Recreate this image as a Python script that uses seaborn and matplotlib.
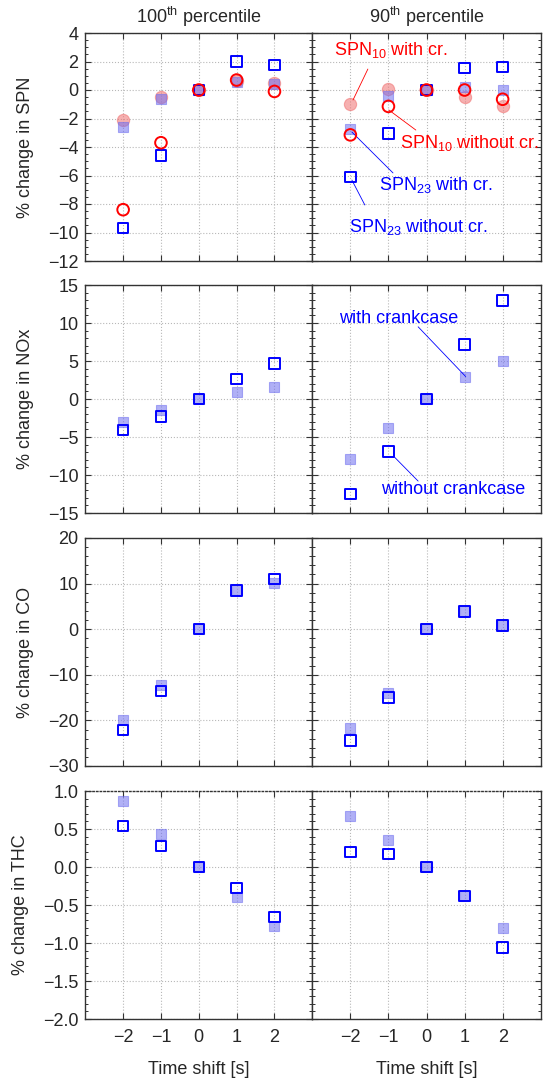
import numpy as np
import pandas as pd
import seaborn as sns
import matplotlib.pyplot as plt
from matplotlib.ticker import MultipleLocator

# time shifts on the x axis
t_shift = [-2, -1, 0, 1, 2]

# SPN, 100th percentile
spn10_cr_100 = [-2.1, -0.5, 0.0, 0.65, 0.5]
spn10_nocr_100 = [-8.4, -3.7, 0.0, 0.7, -0.1]
spn23_cr_100 = [-2.6, -0.6, 0.0, 0.55, 0.4]
spn23_nocr_100 = [-9.7, -4.6, 0.0, 2.0, 1.75]
# SPN, 90th percentile
spn10_cr_90 = [-0.95, 0.05, 0.0, -0.5, -1.1]
spn10_nocr_90 = [-3.15, -1.15, 0.0, 0.0, -0.65]
spn23_cr_90 = [-2.75, -0.45, 0.0, 0.2, 0.0]
spn23_nocr_90 = [-6.1, -3.05, 0.0, 1.55, 1.6]

# NOx
nox_cr_100 = [-3.0, -1.4, 0.0, 0.9, 1.6]
nox_nocr_100 = [-4.05, -2.3, 0.0, 2.6, 4.65]
nox_cr_90 = [-7.85, -3.8, 0.0, 2.85, 5.05]
nox_nocr_90 = [-12.5, -6.9, 0.0, 7.15, 12.95]

# CO
co_cr_100 = [-19.9, -12.3, 0.0, 8.6, 10.1]
co_nocr_100 = [-22.1, -13.6, 0.0, 8.5, 10.95]
co_cr_90 = [-21.75, -14.1, 0.0, 4.1, 0.95]
co_nocr_90 = [-24.4, -15.0, 0.0, 3.9, 0.8]

# THC
thc_cr_100 = [0.87, 0.44, 0.0, -0.39, -0.77]
thc_nocr_100 = [0.54, 0.275, 0.0, -0.28, -0.66]
thc_cr_90 = [0.67, 0.36, 0.0, -0.38, -0.8]
thc_nocr_90 = [0.2, 0.17, 0.0, -0.38, -1.06]

sns.set_style("ticks")
plt.rcParams['font.family'] = ['Liberation Sans', 'DejaVu Sans']
plt.rcParams['font.size'] = 13
plt.rcParams['mathtext.fontset'] = 'custom'
plt.rcParams['mathtext.rm'] = 'Liberation Sans'
plt.rcParams['mathtext.it'] = 'Liberation Sans:italic'
plt.rcParams['axes.unicode_minus'] = True

BLUE = '#0000ff'
RED = '#ff0000'
LBLUE = '#7070f0'
LRED = '#f07070'


def filled(ax, y, marker, color, s):
    sns.scatterplot(x=t_shift, y=y, ax=ax, marker=marker, s=s, color=color,
                    edgecolor=color, alpha=0.55, linewidth=0.8, zorder=3, legend=False)


def hollow(ax, y, marker, color, s):
    sns.scatterplot(x=t_shift, y=y, ax=ax, marker=marker, s=s, facecolor='none',
                    edgecolor=color, linewidth=1.4, zorder=4, legend=False)


fig = plt.figure(figsize=(5.5, 10.91), dpi=100)
W, H = 550, 1091
col_x = [(85.3, 227.0), (312.3, 228.4)]
row_top = [33, 285, 538, 791]
row_h = 228

rows = [
    dict(lab='% change in SPN', lim=(-12, 4), maj=2, mnr=0.5),
    dict(lab='% change in NOx', lim=(-15, 15), maj=5, mnr=1),
    dict(lab='% change in CO', lim=(-30, 20), maj=10, mnr=2),
    dict(lab='% change in THC', lim=(-2, 1), maj=0.5, mnr=0.1),
]

axes = []
for r, cfg in enumerate(rows):
    line = []
    for c, (x0, w) in enumerate(col_x):
        ax = fig.add_axes([x0 / W, 1 - (row_top[r] + row_h) / H, w / W, row_h / H])
        ax.set_xlim(-3, 3)
        ax.set_ylim(*cfg['lim'])
        ax.set_xticks(t_shift)
        ax.yaxis.set_major_locator(MultipleLocator(cfg['maj']))
        ax.yaxis.set_minor_locator(MultipleLocator(cfg['mnr']))
        ax.tick_params(which='both', direction='in', top=True, right=True,
                       color='#333333', labelsize=13)
        ax.tick_params(which='major', length=4.5, width=0.8)
        ax.tick_params(which='minor', length=2.5, width=0.7)
        ax.tick_params(axis='x', pad=7)
        ax.tick_params(axis='y', pad=5)
        ax.grid(True, which='major', linestyle=':', color='#b8b8b8', linewidth=0.8)
        for sp in ax.spines.values():
            sp.set_color('#333333')
            sp.set_linewidth(1.0)
        if r == 3:
            ax.spines['top'].set_linestyle(':')
            ax.set_xlabel('Time shift [s]', fontsize=13, labelpad=11)
        else:
            ax.tick_params(labelbottom=False)
        if c == 0:
            ax.set_ylabel(cfg['lab'], fontsize=13, labelpad=10)
        else:
            ax.tick_params(labelleft=False)
        line.append(ax)
    axes.append(line)

axes[0][0].set_title('100$^{\\mathrm{th}}$ percentile', fontsize=13, pad=7)
axes[0][1].set_title('90$^{\\mathrm{th}}$ percentile', fontsize=13, pad=7)

# SPN row
for ax, a, b, cc, d in [(axes[0][0], spn10_cr_100, spn23_cr_100, spn23_nocr_100, spn10_nocr_100),
                        (axes[0][1], spn10_cr_90, spn23_cr_90, spn23_nocr_90, spn10_nocr_90)]:
    filled(ax, a, 'o', LRED, 78)
    filled(ax, b, 's', LBLUE, 62)
    hollow(ax, cc, 's', BLUE, 56)
    hollow(ax, d, 'o', RED, 70)

# other rows
for r, (y100c, y100n, y90c, y90n) in enumerate([
        (nox_cr_100, nox_nocr_100, nox_cr_90, nox_nocr_90),
        (co_cr_100, co_nocr_100, co_cr_90, co_nocr_90),
        (thc_cr_100, thc_nocr_100, thc_cr_90, thc_nocr_90)], start=1):
    filled(axes[r][0], y100c, 's', LBLUE, 62)
    hollow(axes[r][0], y100n, 's', BLUE, 56)
    filled(axes[r][1], y90c, 's', LBLUE, 62)
    hollow(axes[r][1], y90n, 's', BLUE, 56)

# annotations
ax = axes[0][1]
notes = [
    ('SPN$_{10}$ with cr.', RED, (-0.92, 2.8), (-1.54, 1.47), (-1.93, -0.7)),
    ('SPN$_{10}$ without cr.', RED, (1.14, -3.72), (-0.28, -2.81), (-0.99, -1.4)),
    ('SPN$_{23}$ with cr.', BLUE, (0.26, -6.67), (-0.88, -5.82), (-1.96, -2.95)),
    ('SPN$_{23}$ without cr.', BLUE, (-0.22, -9.61), (-1.62, -8.07), (-1.96, -6.32)),
]
for txt, col, tpos, l0, l1 in notes:
    ax.text(tpos[0], tpos[1], txt, color=col, fontsize=13, ha='center', va='center', zorder=5)
    ax.annotate('', xy=l1, xytext=l0,
                arrowprops=dict(arrowstyle='-', color=col, lw=0.6, shrinkA=0, shrinkB=0))

ax = axes[1][1]
notes = [
    ('with crankcase', (-0.74, 10.6), (-0.22, 9.5), (1.03, 2.95)),
    ('without crankcase', (0.69, -11.9), (-0.22, -10.8), (-0.87, -7.5)),
]
for txt, tpos, l0, l1 in notes:
    ax.text(tpos[0], tpos[1], txt, color=BLUE, fontsize=13, ha='center', va='center', zorder=5)
    ax.annotate('', xy=l1, xytext=l0,
                arrowprops=dict(arrowstyle='-', color=BLUE, lw=0.6, shrinkA=0, shrinkB=0))

fig.savefig('out.png', dpi=100)
